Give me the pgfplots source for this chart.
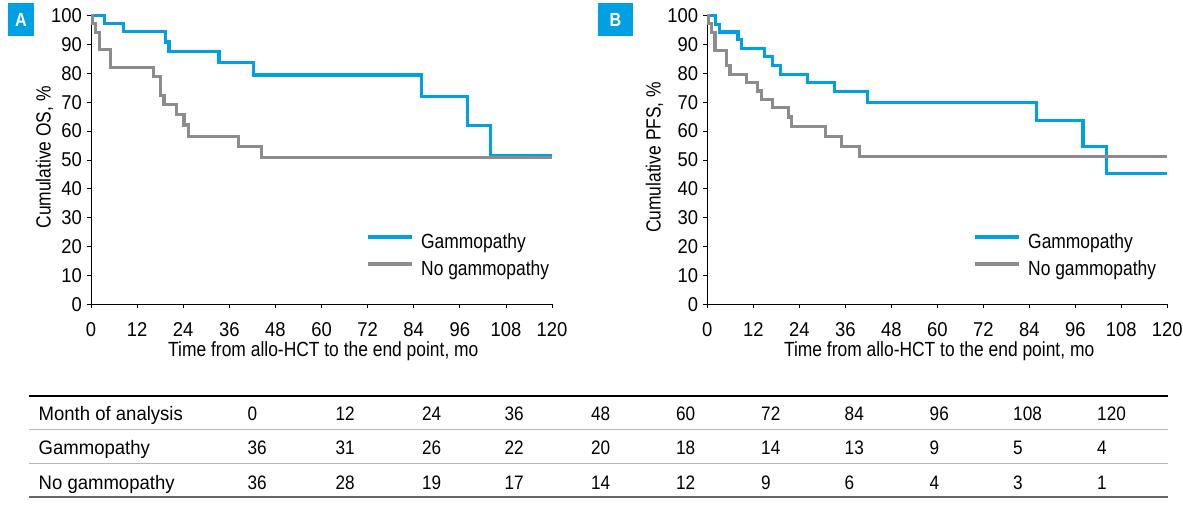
\documentclass[border=0pt]{standalone}
\usepackage{pgfplots}
\pgfplotsset{compat=1.18}
\usepackage{fontspec}
\setmainfont{Liberation Sans}
\newfontfamily\labfont{Liberation Sans}[FakeStretch=0.85]
\newfontfamily\numfont{Liberation Sans}[FakeStretch=0.92]
\newfontfamily\tabfont{Liberation Sans}[FakeStretch=0.95]
\newfontfamily\tabnum{Liberation Sans}[FakeStretch=0.88]
\definecolor{kmblue}{RGB}{0,160,227}
\definecolor{kmgray}{RGB}{140,140,140}

\pgfplotsset{
  kmaxis/.style={
    scale only axis, width=461pt, height=289pt,
    xmin=0, xmax=120, ymin=0, ymax=100,
    axis x line*=bottom, axis y line*=left,
    axis line style={-, black, line width=0.8pt},
    xtick={0,12,...,120}, ytick={0,10,...,100},
    tick align=outside, major tick length=4pt,
    tick style={black, line width=0.8pt},
    /pgf/number format/assume math mode=true,
    ticklabel style={font=\numfont\fontsize{20}{24}\selectfont, inner sep=0pt},
    xticklabel style={yshift=-14pt},
    yticklabel style={xshift=-5pt},
    every axis x label/.style={at={(axis description cs:0.504,-0.1806)}, anchor=base,
      inner sep=0pt, font=\labfont\fontsize{20.5}{24}\selectfont},
    legend style={draw=none, fill=none, inner sep=0pt, outer sep=0pt,
      font=\labfont\fontsize{20.5}{24}\selectfont,
      row sep=7pt, column sep=8pt,
      nodes={inner sep=0pt, text height=15pt, text depth=5pt}},
    legend cell align=left,
    legend image code/.code={\draw[##1] (0pt,6pt) -- (44pt,6pt);},
    clip=false,
  },
  sblue/.style={color=kmblue, line width=3.2pt, const plot},
  sgray/.style={color=kmgray, line width=3.2pt, const plot},
}

\begin{document}
\begin{tikzpicture}[x=1pt,y=1pt]
\useasboundingbox (0,0) rectangle (1183,508);

% ---------- Panel A : OS ----------
\begin{axis}[kmaxis, at={(91pt,203.5pt)}, anchor=south west,
  ylabel={Cumulative OS, \%},
  every axis y label/.style={at={(axis description cs:-0.0874,0.509)}, anchor=base, rotate=90,
    inner sep=0pt, font=\labfont\fontsize{20.5}{24}\selectfont},
  xlabel={Time from allo-HCT to the end point, mo},
  legend style={at={(axis description cs:0.5965,0.166)}, anchor=west}]
\addplot[sblue] coordinates {(0,100) (3.6,97.2) (8.5,94.4) (19.4,90.8) (20.3,87.5) (33.3,83.6) (42.4,79.4) (86.1,72.1) (98.0,61.9) (104.0,51.6) (120,51.6)};
\addlegendentry{Gammopathy}
\addplot[sgray] coordinates {(0,100) (0.3,97.2) (1.2,94.2) (2.2,88.1) (5.0,82.0) (16.3,79.0) (18.1,72.4) (19.0,69.3) (22.2,65.7) (24.2,62.1) (25.3,58.2) (38.3,54.6) (44.4,50.8) (120,50.8)};
\addlegendentry{No gammopathy}
\end{axis}

% ---------- Panel B : PFS ----------
\begin{axis}[kmaxis, at={(707.3pt,203.5pt)}, anchor=south west, width=460pt,
  ylabel={Cumulative PFS, \%},
  every axis y label/.style={at={(axis description cs:-0.1013,0.509)}, anchor=base, rotate=90,
    inner sep=0pt, font=\labfont\fontsize{20.5}{24}\selectfont},
  xlabel={Time from allo-HCT to the end point, mo},
  legend style={at={(axis description cs:0.5776,0.166)}, anchor=west}]
\addplot[sblue] coordinates {(0,100) (2.2,97.0) (3.1,94.3) (8.0,91.7) (8.9,88.6) (14.9,85.9) (17.1,82.8) (19.0,79.7) (26.2,76.7) (33.1,73.6) (41.7,69.8) (85.8,63.6) (98.0,54.6) (104.1,45.4) (120,45.4)};
\addlegendentry{Gammopathy}
\addplot[sgray] coordinates {(0,100) (0.3,97.1) (1.1,94.1) (2.0,88.0) (5.0,82.8) (5.9,79.7) (10.2,76.7) (13.0,73.9) (14.1,70.9) (17.1,68.2) (21.2,64.9) (22.0,61.7) (30.9,58.0) (35.0,54.8) (39.7,51.1) (120,51.1)};
\addlegendentry{No gammopathy}
\end{axis}

% ---------- Panel letters ----------
\fill[kmblue] (8,472) rectangle (34,505);
\node[text=white, inner sep=0pt, font=\labfont\bfseries\fontsize{19}{22}\selectfont] at (21,488.5) {A};
\fill[kmblue] (598,472) rectangle (633,505);
\node[text=white, inner sep=0pt, font=\labfont\bfseries\fontsize{19}{22}\selectfont] at (615.5,488.5) {B};

% ---------- Numbers-at-risk table ----------
\draw[black, line width=1.5pt] (29,112) -- (1168,112);
\draw[black!28, line width=1.3pt] (29,78.5) -- (1168,78.5);
\draw[black!28, line width=1.3pt] (29,44.5) -- (1168,44.5);
\draw[black!60, line width=1.5pt] (29,11) -- (1168,11);
\begin{scope}[every node/.style={inner sep=0pt, anchor=base west}]
\node[font=\tabfont\fontsize{19.5}{23}\selectfont] at (38.5,87.3) {Month of analysis};
\node[font=\tabfont\fontsize{19.5}{23}\selectfont] at (38.5,53) {Gammopathy};
\node[font=\tabfont\fontsize{19.5}{23}\selectfont] at (38.5,18.7) {No gammopathy};
\foreach \v/\x in {0/247.3,12/335.5,24/422,36/504.3,48/591,60/676,72/761,84/844.5,96/929.5,108/1013,120/1097}
  \node[font=\tabnum\fontsize{19.5}{23}\selectfont] at (\x,87.3) {\v};
\foreach \v/\x in {36/247.3,31/335.5,26/422,22/504.3,20/591,18/676,14/761,13/844.5,9/929.5,5/1013,4/1097}
  \node[font=\tabnum\fontsize{19.5}{23}\selectfont] at (\x,53) {\v};
\foreach \v/\x in {36/247.3,28/335.5,19/422,17/504.3,14/591,12/676,9/761,6/844.5,4/929.5,3/1013,1/1097}
  \node[font=\tabnum\fontsize{19.5}{23}\selectfont] at (\x,18.7) {\v};
\end{scope}
\end{tikzpicture}
\end{document}
